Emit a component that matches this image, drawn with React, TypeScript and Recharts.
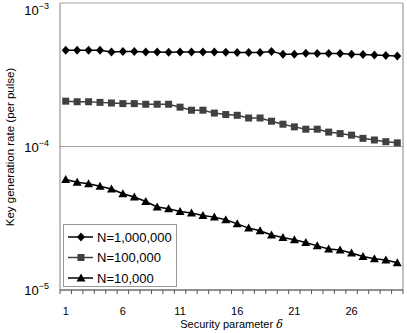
import React from "react";
import { LineChart, Line, XAxis, YAxis, CartesianGrid, Legend, ReferenceLine, Label } from "recharts";

// security parameter delta
const deltas = [1, 2, 3, 4, 5, 6, 7, 8, 9, 10, 11, 12, 13, 14, 15, 16, 17, 18, 19, 20, 21, 22, 23, 24, 25, 26, 27, 28, 29, 30];

// key generation rate per pulse
const rate1M = [
  4.69e-4, 4.69e-4, 4.69e-4, 4.69e-4, 4.56e-4, 4.6e-4, 4.6e-4, 4.56e-4, 4.56e-4, 4.54e-4,
  4.56e-4, 4.56e-4, 4.56e-4, 4.56e-4, 4.54e-4, 4.52e-4, 4.52e-4, 4.52e-4, 4.6e-4, 4.4e-4,
  4.4e-4, 4.47e-4, 4.45e-4, 4.45e-4, 4.45e-4, 4.4e-4, 4.38e-4, 4.35e-4, 4.31e-4, 4.28e-4,
];
const rate100k = [
  2.07e-4, 2.05e-4, 2.05e-4, 2.03e-4, 2.01e-4, 1.99e-4, 1.99e-4, 1.97e-4, 1.97e-4, 1.97e-4,
  1.88e-4, 1.79e-4, 1.79e-4, 1.71e-4, 1.67e-4, 1.65e-4, 1.58e-4, 1.58e-4, 1.5e-4, 1.43e-4,
  1.37e-4, 1.32e-4, 1.32e-4, 1.26e-4, 1.23e-4, 1.2e-4, 1.14e-4, 1.11e-4, 1.08e-4, 1.06e-4,
];
const rate10k = [
  5.88e-5, 5.63e-5, 5.51e-5, 5.28e-5, 5.06e-5, 4.69e-5, 4.45e-5, 4.14e-5, 3.79e-5, 3.68e-5,
  3.53e-5, 3.44e-5, 3.31e-5, 3.22e-5, 3.09e-5, 2.89e-5, 2.7e-5, 2.59e-5, 2.42e-5, 2.32e-5,
  2.24e-5, 2.14e-5, 2.03e-5, 1.93e-5, 1.9e-5, 1.81e-5, 1.71e-5, 1.65e-5, 1.62e-5, 1.55e-5,
];

const seriesKeys = ["n1m", "n100k", "n10k"];
const seriesNames = ["N=1,000,000", "N=100,000", "N=10,000"];
const yTicks = [1e-5, 1e-4, 1e-3];
const yTickExponents = ["\u22125", "\u22124", "\u22123"];
const xLabelTicks = [1, 6, 11, 16, 21, 26];

const data = deltas.map((d, i) => ({ delta: d, n1m: rate1M[i], n100k: rate100k[i], n10k: rate10k[i] }));
// minor tick marks sit between the categories
const xTicks = [...deltas.map((d) => d - 0.5), ...deltas, 30.5].sort((a, b) => a - b);

const FONT = "'Liberation Sans', Arial, sans-serif";

const marker = (key: string, cx: number, cy: number, k?: string) => {
  if (key === "n1m")
    return <polygon key={k} points={`${cx},${cy - 4.5} ${cx + 4},${cy} ${cx},${cy + 4.5} ${cx - 4},${cy}`} fill="#000" />;
  if (key === "n100k")
    return <rect key={k} x={cx - 3.5} y={cy - 3.5} width={7} height={7} fill="#404040" />;
  return <polygon key={k} points={`${cx},${cy - 4.5} ${cx + 4.5},${cy + 3.5} ${cx - 4.5},${cy + 3.5}`} fill="#000" />;
};

const XTick = ({ x, y, payload }: any) => {
  const v = payload.value;
  if (!Number.isInteger(v)) return <line x1={x} x2={x} y1={y} y2={y + 4} stroke="#555" />;
  if (!xLabelTicks.includes(v)) return <g />;
  return (
    <text x={x} y={y + 25} textAnchor="middle" fontSize={11} fill="#000" fontFamily={FONT}>
      {v}
    </text>
  );
};

const YTick = ({ x, y, payload }: any) => {
  const idx = yTicks.indexOf(payload.value);
  const ty = Math.max(y, 10); // top label kept inside the chart area
  return (
    <text x={x - 11} y={ty + 5} textAnchor="end" fontSize={13} fill="#000" fontFamily={FONT}>
      <tspan>10</tspan>
      <tspan dy={-6} fontSize={9}>{yTickExponents[idx]}</tspan>
    </text>
  );
};

const LegendBox = ({ payload }: any) => {
  const items = [...(payload || [])].sort(
    (a: any, b: any) => seriesKeys.indexOf(a.dataKey) - seriesKeys.indexOf(b.dataKey)
  );
  return (
    <svg width={114} height={63} style={{ display: "block" }}>
      <rect x={0.5} y={0.5} width={113} height={62} fill="#fff" stroke="#999" />
      {items.map((p: any, i: number) => {
        const cy = 13 + i * 20.5;
        return (
          <g key={p.dataKey}>
            <line x1={5} x2={30} y1={cy} y2={cy} stroke={p.color} strokeWidth={1.5} />
            {marker(p.dataKey, 18, cy)}
            <text x={34} y={cy + 4.5} fontSize={13} fill="#000" fontFamily={FONT}>
              {p.value}
            </text>
          </g>
        );
      })}
    </svg>
  );
};

export default function App() {
  return (
    <div style={{ position: "absolute", left: 0, top: 0, background: "#fff" }}>
      <LineChart width={407} height={333} data={data} margin={{ top: 3, right: 4, left: 0, bottom: 0 }}>
        <CartesianGrid vertical={false} stroke="#a0a0a0" />
        <XAxis
          dataKey="delta"
          type="number"
          domain={[0.5, 30.5]}
          ticks={xTicks}
          interval={0}
          allowDecimals
          tickLine={false}
          tickSize={0}
          tickMargin={0}
          tick={<XTick />}
          axisLine={{ stroke: "#555" }}
          height={43}
        >
          <Label
            content={({ viewBox }: any) => (
              <text
                x={viewBox.x + viewBox.width / 2}
                y={viewBox.y + 38}
                textAnchor="middle"
                fontSize={11}
                fill="#000"
                fontFamily={FONT}
              >
                <tspan>Security parameter </tspan>
                <tspan fontStyle="italic" fontFamily="'DejaVu Serif', serif">δ</tspan>
              </text>
            )}
          />
        </XAxis>
        <YAxis
          scale="log"
          type="number"
          domain={[1e-5, 1e-3]}
          ticks={yTicks}
          interval={0}
          allowDataOverflow
          tickLine={false}
          tickSize={0}
          tickMargin={0}
          tick={<YTick />}
          axisLine={{ stroke: "#808080" }}
          width={60}
        >
          <Label
            content={() => (
              <text
                x={14}
                y={147}
                transform="rotate(-90 14 147)"
                textAnchor="middle"
                fontSize={11.5}
                fill="#000"
                fontFamily={FONT}
              >
                Key generation rate (per pulse)
              </text>
            )}
          />
        </YAxis>
        <ReferenceLine x={30.5} stroke="#888" />
        <Line
          dataKey="n1m"
          name={seriesNames[0]}
          stroke="#000"
          strokeWidth={1.5}
          dot={(p: any) => marker("n1m", p.cx, p.cy, `a${p.index}`)}
          isAnimationActive={false}
        />
        <Line
          dataKey="n100k"
          name={seriesNames[1]}
          stroke="#404040"
          strokeWidth={1.5}
          dot={(p: any) => marker("n100k", p.cx, p.cy, `b${p.index}`)}
          isAnimationActive={false}
        />
        <Line
          dataKey="n10k"
          name={seriesNames[2]}
          stroke="#000"
          strokeWidth={1.5}
          dot={(p: any) => marker("n10k", p.cx, p.cy, `c${p.index}`)}
          isAnimationActive={false}
        />
        <Legend
          layout="vertical"
          align="center"
          verticalAlign="middle"
          content={<LegendBox />}
          wrapperStyle={{ left: 63, top: 224, width: 114, height: 63 }}
        />
      </LineChart>
    </div>
  );
}
